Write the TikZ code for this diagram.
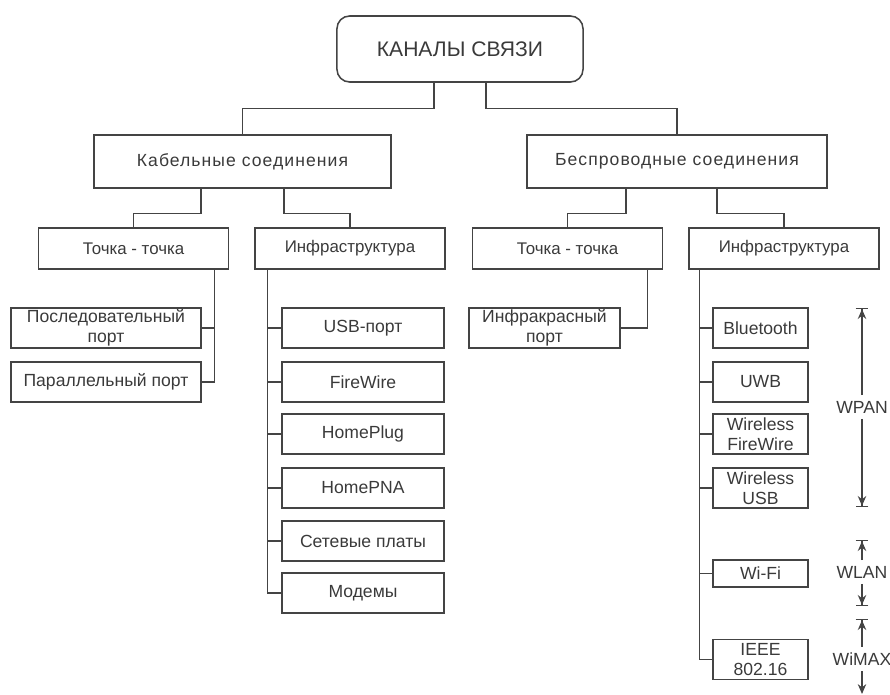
\documentclass[tikz,border=0pt]{standalone}
\usepackage{fontspec}
\setmainfont{Liberation Sans}
\usetikzlibrary{arrows.meta}
\definecolor{ink}{HTML}{3A3A3A}
\definecolor{wire}{HTML}{444444}

\begin{document}
\begin{tikzpicture}[
  x=0.025cm, y=-0.025cm,
  every node/.style={inner sep=1pt, text=ink, font=\fontsize{12.5}{14.5}\selectfont},
  rootbox/.style={draw=wire, line width=1.1pt, rounded corners=9pt,
    minimum width=6.15cm, minimum height=1.65cm, font=\fontsize{15}{17}\selectfont},
  groupbox/.style={draw=wire, line width=0.9pt, minimum height=1.325cm,
    font=\fontsize{12.5}{14.5}\selectfont\addfontfeatures{LetterSpace=6}},
  kindbox/.style={draw=wire, line width=0.9pt, minimum width=4.75cm, minimum height=1.025cm,
    font=\fontsize{12}{14}\selectfont},
  leaf/.style={draw=wire, line width=0.9pt, minimum height=1cm, inner ysep=0pt, align=center},
  link/.style={draw=wire, line width=0.9pt},
  tag/.style={inner sep=4pt},
  span/.style={draw=wire, line width=0.8pt, -{Stealth[length=7pt,width=6pt]Bar[width=9pt]}}]

  \useasboundingbox (0,0) rectangle (890,695);

  % top of the tree
  \node[rootbox] (root) at (460,49) {КАНАЛЫ СВЯЗИ};
  \node[groupbox, minimum width=7.425cm] (cable) at (242.5,161.5) {Кабельные соединения};
  \node[groupbox, minimum width=7.5cm]   (radio) at (677,161.5)   {Беспроводные соединения};

  \node[kindbox] (cp2p)   at (133.5,248.5) {Точка - точка};
  \node[kindbox] (cinfra) at (350,248.5)   {Инфраструктура};
  \node[kindbox] (rp2p)   at (567.5,248.5) {Точка - точка};
  \node[kindbox] (rinfra) at (784,248.5)   {Инфраструктура};

  % cable leaves
  \node[leaf, minimum width=4.75cm] (serial)   at (106,328) {Последовательный\\порт};
  \node[leaf, minimum width=4.75cm] (parallel) at (106,382) {Параллельный порт};
  \foreach \y/\n/\t in {328/usb/USB-порт, 382/fw/FireWire, 434/hplug/HomePlug,
                        488/hpna/HomePNA, 541/nic/Сетевые платы, 593/modem/Модемы}
    \node[leaf, minimum width=4.05cm] (\n) at (363,\y) {\t};

  % wireless leaves
  \node[leaf, minimum width=3.775cm] (irda) at (544.5,328) {Инфракрасный\\порт};
  \foreach \y/\n/\t in {328/bt/Bluetooth, 382/uwb/UWB, 434/wfw/Wireless\\FireWire,
                        488/wusb/Wireless\\USB, 659.5/wimax/IEEE\\802.16}
    \node[leaf, minimum width=2.375cm] (\n) at (760.5,\y) {\t};
  \node[leaf, minimum width=2.375cm, minimum height=0.675cm] (wifi) at (760.5,573.5) {Wi-Fi};

  % links between levels
  \draw[link] ([xshift=-0.65cm]root.south) -- ++(0,26) -| (cable.north);
  \draw[link] ([xshift=0.65cm]root.south)  -- ++(0,26) -| (radio.north);
  \draw[link] ([xshift=-1.04cm]cable.south) -- ++(0,25) -| (cp2p.north);
  \draw[link] ([xshift=1.04cm]cable.south)  -- ++(0,25) -| (cinfra.north);
  \draw[link] ([xshift=-1.275cm]radio.south) -- ++(0,25) -| (rp2p.north);
  \draw[link] ([xshift=1cm]radio.south)      -- ++(0,25) -| (rinfra.north);

  % buses
  \coordinate (cbus) at ([xshift=-0.375cm]cp2p.south east);
  \draw[link] (cbus) |- (parallel.east);
  \draw[link] (serial.east) -- (serial.east -| cbus);
  \draw[link] ([xshift=-0.4cm]rp2p.south east) |- (irda.east);

  \coordinate (ctrunk) at ([xshift=0.325cm]cinfra.south west);
  \draw[link] (ctrunk) |- (modem.west);
  \foreach \n in {usb, fw, hplug, hpna, nic}
    \draw[link] (\n.west) -- (\n.west -| ctrunk);

  \coordinate (rtrunk) at ([xshift=0.275cm]rinfra.south west);
  \draw[link] (rtrunk) |- (wimax.west);
  \foreach \n in {bt, uwb, wfw, wusb, wifi}
    \draw[link] (\n.west) -- (\n.west -| rtrunk);

  % ranges on the right
  \node[tag] (wpan) at (862,407) {WPAN};
  \node[tag] (wlan) at (862,572) {WLAN};
  \node[tag] (wmax) at (862,659) {WiMAX};
  \coordinate (wpanT) at (862,308);
  \coordinate (wpanB) at (862,507);
  \coordinate (wlanT) at (862,540);
  \coordinate (wlanB) at (862,606);
  \coordinate (wmaxT) at (862,619);
  \coordinate (wmaxB) at (862,694);
  \draw[span] (wpan) -- (wpanT);
  \draw[span] (wpan) -- (wpanB);
  \draw[span] (wlan) -- (wlanT);
  \draw[span] (wlan) -- (wlanB);
  \draw[span] (wmax) -- (wmaxT);
  \draw[link, -{Stealth[length=7pt,width=6pt]}] (wmax) -- (wmaxB);
\end{tikzpicture}
\end{document}
